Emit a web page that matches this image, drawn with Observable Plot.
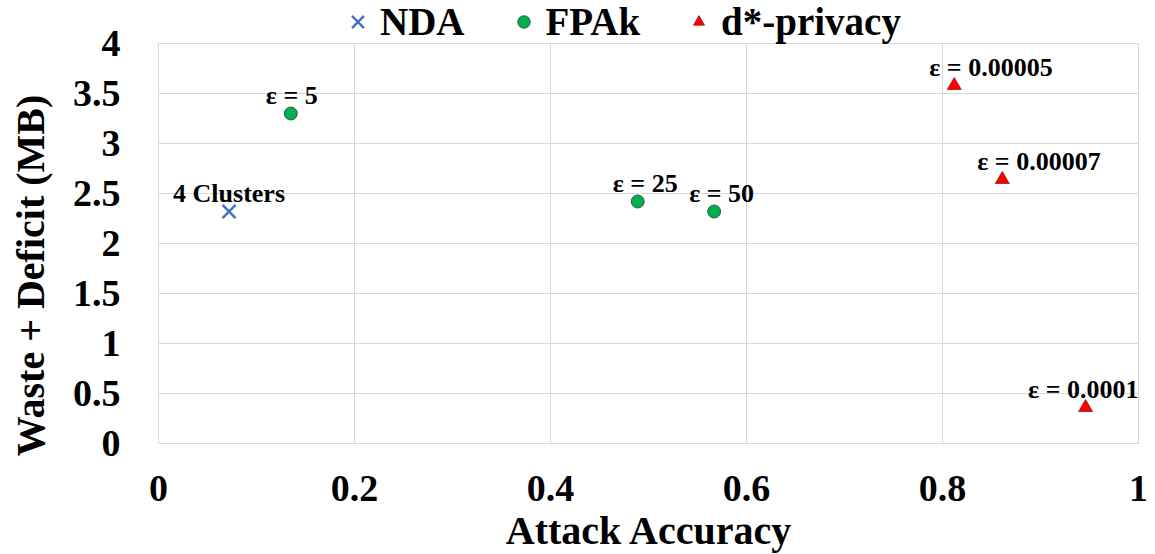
<!DOCTYPE html>
<html>
<head>
<meta charset="utf-8">
<script src="https://cdn.jsdelivr.net/npm/d3@7"></script>
<script src="https://cdn.jsdelivr.net/npm/@observablehq/plot@0.6"></script>
<style>
  html, body { margin: 0; padding: 0; background: #fff; }
  #wrap { position: relative; width: 1155px; height: 554px; }
  #legend {
    position: absolute; top: 0; left: 350px; height: 43px;
    display: flex; align-items: center;
    font: bold 39px "Liberation Serif", "Times New Roman", serif;
    line-height: 40px; color: #000;
  }
  #legend .item { display: flex; align-items: center; margin-right: 51px; }
  #legend svg { margin-right: 14px; overflow: visible; }
</style>
</head>
<body>
<div id="wrap">
  <div id="legend"></div>
  <div id="chart"></div>
</div>
<script>
// Series names (legend order)
const seriesNames = ["NDA", "FPAk", "d*-privacy"];

// NDA
const ndaX = [0.072];
const ndaY = [2.32];
const ndaLabels = ["4 Clusters"];

// FPAk
const fpakX = [0.135, 0.489, 0.567];
const fpakY = [3.30, 2.42, 2.32];
const fpakEps = ["5", "25", "50"];

// d*-privacy
const dstarX = [0.812, 0.861, 0.946];
const dstarY = [3.58, 2.64, 0.36];
const dstarEps = ["0.00005", "0.00007", "0.0001"];

// Axis ticks
const xTicks = [0, 0.2, 0.4, 0.6, 0.8, 1];
const yTicks = [0, 0.5, 1, 1.5, 2, 2.5, 3, 3.5, 4];

const xTitle = "Attack Accuracy";
const yTitle = "Waste + Deficit (MB)";

// Rows for the marks
const nda = ndaX.map((x, i) => ({series: seriesNames[0], x, y: ndaY[i], label: ndaLabels[i]}));
const fpak = fpakX.map((x, i) => ({series: seriesNames[1], x, y: fpakY[i], label: `ε = ${fpakEps[i]}`}));
const dstar = dstarX.map((x, i) => ({series: seriesNames[2], x, y: dstarY[i], label: `ε = ${dstarEps[i]}`}));
const allPoints = [...nda, ...fpak, ...dstar];

const W = 1155, H = 554;
const margin = {left: 158, right: 17, top: 43, bottom: 111};
const font = "'Liberation Serif', 'Times New Roman', serif";

const styles = {
  [seriesNames[0]]: {symbol: "times", r: 6, fill: "none", stroke: "#4472C4", strokeWidth: 2.5},
  [seriesNames[1]]: {symbol: "circle", r: 6.5, fill: "#00B050", stroke: "#2b2b2b", strokeWidth: 0.75},
  [seriesNames[2]]: {symbol: "triangle", r: 5.2, fill: "#FF0000", stroke: "#8b1a1a", strokeWidth: 0.75}
};

// Horizontal placement of point labels: the "=" sits over the marker
// (labels without "=" are centred), kept inside the plot frame.
const xs = Plot.scale({x: {domain: [0, 1], range: [margin.left, W - margin.right]}});
const ctx = document.createElement("canvas").getContext("2d");
const labelSize = 26;
ctx.font = `bold ${labelSize}px ${font}`;
function labelDx(d) {
  const w = ctx.measureText(d.label).width;
  const k = d.label.indexOf("=");
  let dx = k >= 0
    ? -(ctx.measureText(d.label.slice(0, k)).width + ctx.measureText("=").width / 2)
    : -w / 2;
  const px = xs.apply(d.x);
  const right = W - margin.right;
  if (px + dx + w > right) dx = right - px - w;
  return dx;
}

const labelMarks = allPoints.map((d) =>
  Plot.text([d], {
    x: "x", y: "y", text: "label",
    textAnchor: "start", lineAnchor: "bottom",
    dx: labelDx(d), dy: -10,
    fontSize: labelSize, fill: "#000"
  })
);

const dotMarks = [nda, fpak, dstar].map((rows) => {
  const s = styles[rows[0].series];
  return Plot.dot(rows, {x: "x", y: "y", ...s});
});

const chart = Plot.plot({
  width: W,
  height: H,
  marginLeft: margin.left,
  marginRight: margin.right,
  marginTop: margin.top,
  marginBottom: margin.bottom,
  style: {fontFamily: font, fontWeight: "bold", background: "#fff", color: "#000", overflow: "visible"},
  x: {domain: [0, 1]},
  y: {domain: [0, 4]},
  marks: [
    Plot.gridX(xTicks, {stroke: "#d9d9d9", strokeOpacity: 1, strokeWidth: 1}),
    Plot.gridY(yTicks, {stroke: "#d9d9d9", strokeOpacity: 1, strokeWidth: 1}),
    Plot.frame({stroke: "#d9d9d9", strokeWidth: 1}),
    Plot.axisX(xTicks, {tickSize: 0, tickPadding: 31, fontSize: 38, label: null, tickFormat: (d) => String(d)}),
    Plot.axisY(yTicks, {tickSize: 0, tickPadding: 38, fontSize: 38, label: null, tickFormat: (d) => String(d)}),
    Plot.text([xTitle], {text: (d) => d, frameAnchor: "bottom", textAnchor: "middle", lineAnchor: "bottom", dy: 100, fontSize: 40}),
    Plot.text([yTitle], {text: (d) => d, frameAnchor: "left", textAnchor: "middle", lineAnchor: "bottom", rotate: -90, dx: -115, dy: 32, fontSize: 40}),
    ...dotMarks,
    ...labelMarks
  ]
});
document.getElementById("chart").appendChild(chart);

// Legend
const legendSymbols = {
  [seriesNames[0]]: {type: d3.symbolTimes, size: 96},
  [seriesNames[1]]: {type: d3.symbolCircle, size: 123},
  [seriesNames[2]]: {type: d3.symbolTriangle, size: 53}
};
const legend = d3.select("#legend");
for (const name of seriesNames) {
  const s = styles[name];
  const item = legend.append("div").attr("class", "item");
  const svg = item.append("svg").attr("width", 16).attr("height", 16).attr("viewBox", "-8 -8 16 16");
  svg.append("path")
    .attr("d", d3.symbol(legendSymbols[name].type, legendSymbols[name].size)())
    .attr("fill", s.fill)
    .attr("stroke", s.stroke)
    .attr("stroke-width", s.strokeWidth);
  item.append("span").text(name);
}
</script>
</body>
</html>
